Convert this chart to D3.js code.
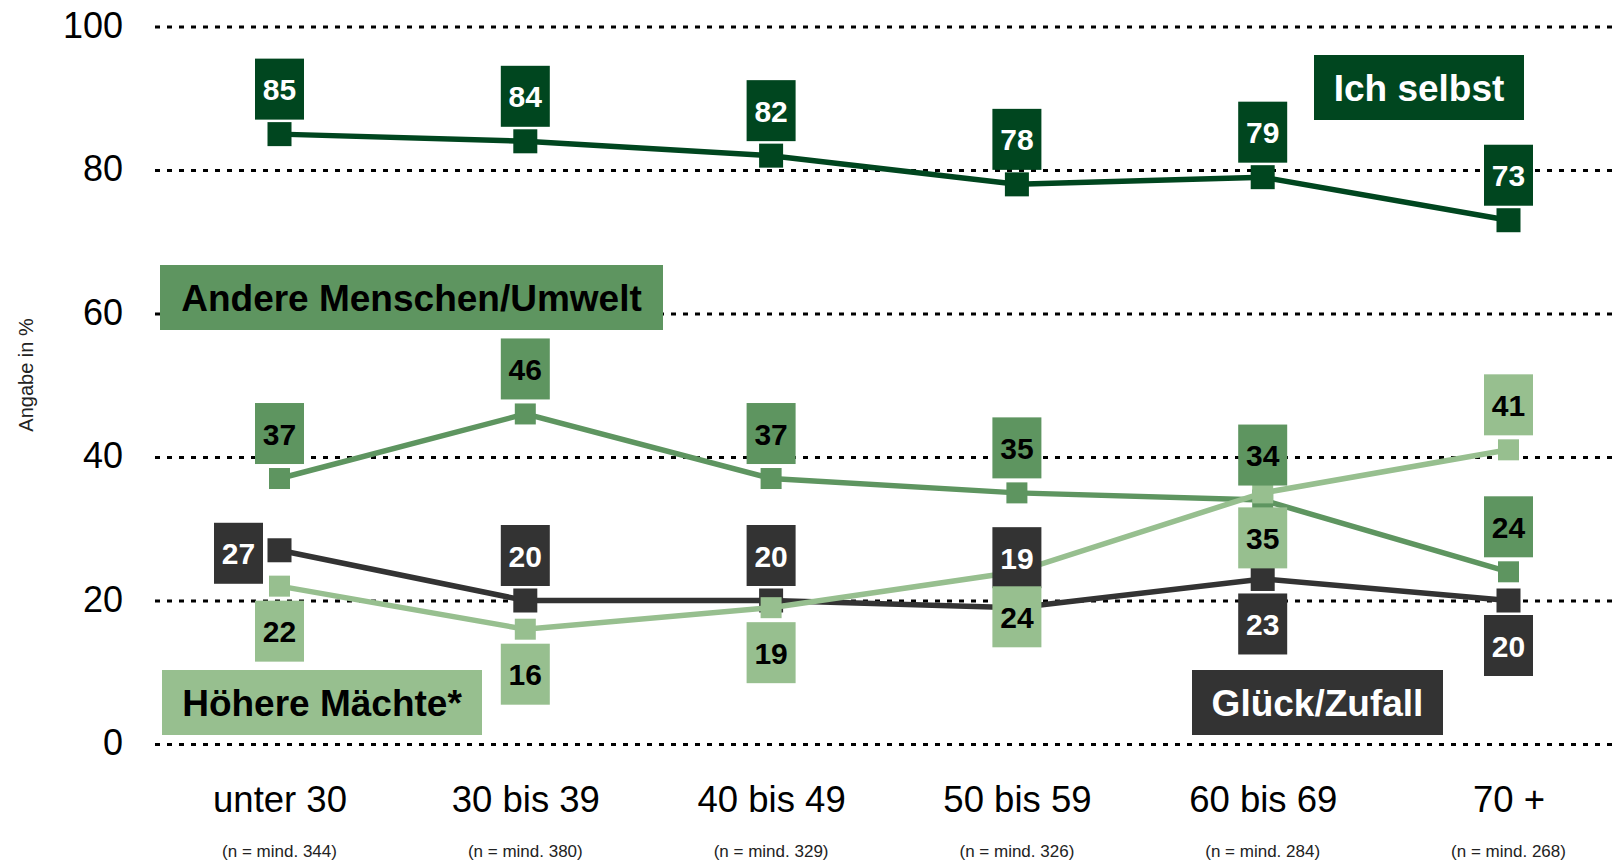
<html>
<head>
    <title>Angabe in % nach Alter</title>
    <style>
        body{
            margin: 0;
            background: #fff;
        }
        svg{
            display: block;
            font-family: "Liberation Sans", Arial, sans-serif;
        }
    </style>
</head>
<body>
    <script src="https://d3js.org/d3.v7.min.js"></script>
    <svg></svg>
    <script>

    // ---- data ----
    var categories = ["unter 30", "30 bis 39", "40 bis 49", "50 bis 59", "60 bis 69", "70 +"];
    var sampleSizes = ["(n = mind. 344)", "(n = mind. 380)", "(n = mind. 329)", "(n = mind. 326)", "(n = mind. 284)", "(n = mind. 268)"];

    var ichSelbst = [85, 84, 82, 78, 79, 73];
    var andere    = [37, 46, 37, 35, 34, 24];
    var glueck    = [27, 20, 20, 19, 23, 20];
    var hoehere   = [22, 16, 19, 24, 35, 41];

    var yTicks = [0, 20, 40, 60, 80, 100];

    // where the value boxes sit relative to the marker
    var ichPlace     = ["up", "up", "up", "up", "up", "up"];
    var anderePlace  = ["up", "up", "up", "up", "up", "up"];
    var glueckPlace  = ["left", "up", "up", "up2", "down", "down"];
    var hoeherePlace = ["down", "down", "down", "down", "down", "up"];

    var width = 1619;
    var height = 862;

    var svg = d3.select("svg")
        .attr("width", width)
        .attr("height", height);

    var x = d3.scalePoint()
        .domain(categories)
        .range([279.5, 1508.5]);

    var y = d3.scaleLinear()
        .domain([0, 100])
        .range([744, 26.5]);

    // gridlines + y labels
    var yAxis = svg.append("g")
        .attr("transform", "translate(155,0)")
        .call(d3.axisLeft(y).tickValues(yTicks).tickSize(-(width - 155)).tickPadding(32));

    yAxis.select(".domain").remove();
    yAxis.selectAll(".tick line")
        .attr("stroke", "#000")
        .attr("stroke-width", 3)
        .attr("stroke-dasharray", "5,7");
    yAxis.selectAll(".tick text")
        .attr("font-family", "Liberation Sans, Arial, sans-serif")
        .attr("font-size", 36)
        .attr("fill", "#000")
        .attr("dy", "0.3em");

    svg.append("text")
        .attr("transform", "translate(33,375) rotate(-90)")
        .attr("text-anchor", "middle")
        .attr("font-size", 20)
        .attr("fill", "#222")
        .text("Angabe in %");

    // x labels
    var xAxis = svg.append("g")
        .attr("transform", "translate(0,776)")
        .call(d3.axisBottom(x).tickSize(0).tickPadding(0));

    xAxis.select(".domain").remove();
    xAxis.selectAll(".tick text")
        .attr("font-family", "Liberation Sans, Arial, sans-serif")
        .attr("font-size", 36.5)
        .attr("fill", "#000")
        .attr("dy", 36);

    svg.selectAll(".nlabel")
        .data(sampleSizes)
        .enter().append("text")
        .attr("class", "nlabel")
        .attr("x", (d, i) => x(categories[i]))
        .attr("y", 857)
        .attr("text-anchor", "middle")
        .attr("font-size", 17)
        .attr("fill", "#222")
        .text(d => d);

    var series = [
        { name: "Ich selbst", values: ichSelbst, place: ichPlace, color: "#00461f", text: "#fff", marker: 24 },
        { name: "Andere Menschen/Umwelt", values: andere, place: anderePlace, color: "#5e9560", text: "#000", marker: 21 },
        { name: "Glück/Zufall", values: glueck, place: glueckPlace, color: "#333333", text: "#fff", marker: 24 },
        { name: "Höhere Mächte*", values: hoehere, place: hoeherePlace, color: "#97bf8f", text: "#000", marker: 21 }
    ];

    var line = d3.line()
        .x((d, i) => x(categories[i]))
        .y(d => y(d));

    // lines and markers
    series.forEach(function(s){
        var g = svg.append("g");
        g.append("path")
            .attr("d", line(s.values))
            .attr("fill", "none")
            .attr("stroke", s.color)
            .attr("stroke-width", 5.5);
        g.selectAll("rect")
            .data(s.values)
            .enter().append("rect")
            .attr("x", (d, i) => x(categories[i]) - s.marker / 2)
            .attr("y", d => y(d) - s.marker / 2)
            .attr("width", s.marker)
            .attr("height", s.marker)
            .attr("fill", s.color);
    });

    // value boxes
    var offsets = {
        up:   { dx: 0, dy: -45 },
        up2:  { dx: 0, dy: -50 },
        down: { dx: 0, dy: 45 },
        left: { dx: -41, dy: 3 }
    };
    var boxW = 49, boxH = 61;

    series.forEach(function(s){
        var g = svg.append("g");
        var lab = g.selectAll("g")
            .data(s.values)
            .enter().append("g")
            .attr("transform", (d, i) => {
                var o = offsets[s.place[i]];
                return "translate(" + (x(categories[i]) + o.dx) + "," + (y(d) + o.dy) + ")";
            });
        lab.append("rect")
            .attr("x", -boxW / 2)
            .attr("y", -boxH / 2)
            .attr("width", boxW)
            .attr("height", boxH)
            .attr("fill", s.color);
        lab.append("text")
            .attr("text-anchor", "middle")
            .attr("y", 11)
            .attr("font-size", 30)
            .attr("font-weight", "bold")
            .attr("fill", s.text)
            .text(d => d);
    });

    // series name boxes
    var legends = [
        { s: 0, x: 1314, y: 55, w: 210, h: 65 },
        { s: 1, x: 160, y: 265, w: 503, h: 65 },
        { s: 2, x: 1192, y: 670, w: 251, h: 65 },
        { s: 3, x: 162, y: 670, w: 320, h: 65 }
    ];

    var leg = svg.selectAll(".legend")
        .data(legends)
        .enter().append("g")
        .attr("class", "legend")
        .attr("transform", d => "translate(" + d.x + "," + d.y + ")");

    leg.append("rect")
        .attr("width", d => d.w)
        .attr("height", d => d.h)
        .attr("fill", d => series[d.s].color);

    leg.append("text")
        .attr("x", d => d.w / 2)
        .attr("y", d => d.h / 2 + 13)
        .attr("text-anchor", "middle")
        .attr("font-size", 37)
        .attr("font-weight", "bold")
        .attr("fill", d => series[d.s].text)
        .text(d => series[d.s].name);

    </script>
</body>
</html>
